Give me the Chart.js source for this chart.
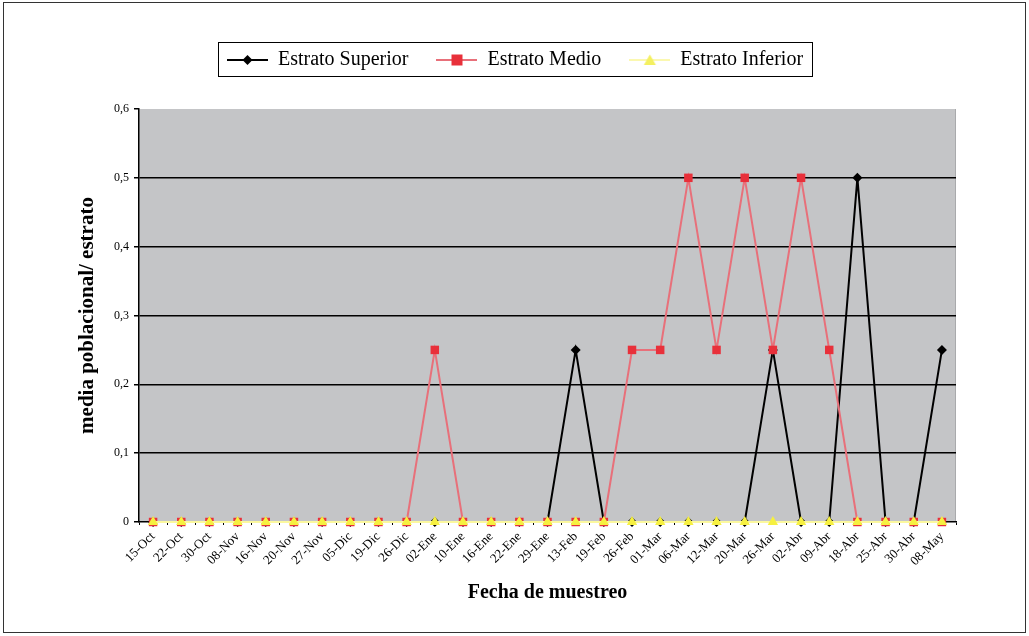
<!DOCTYPE html>
<html>
<head>
<meta charset="utf-8">
<script src="https://cdn.jsdelivr.net/npm/chart.js@4.4.1/dist/chart.umd.min.js"></script>
<style>
  html, body { margin: 0; padding: 0; background: #ffffff; }
  #wrap { width: 1029px; height: 636px; position: relative; }
</style>
</head>
<body>
<div id="wrap"><canvas id="grafico" width="1029" height="636"></canvas></div>
<script>
// Fechas de muestreo
const categorias = [
  '15-Oct', '22-Oct', '30-Oct', '08-Nov', '16-Nov', '20-Nov', '27-Nov', '05-Dic',
  '19-Dic', '26-Dic', '02-Ene', '10-Ene', '16-Ene', '22-Ene', '29-Ene', '13-Feb',
  '19-Feb', '26-Feb', '01-Mar', '06-Mar', '12-Mar', '20-Mar', '26-Mar', '02-Abr',
  '09-Abr', '18-Abr', '25-Abr', '30-Abr', '08-May'
];

// Media poblacional por estrato
const estratoSuperior = [
  0, 0, 0, 0, 0, 0, 0, 0, 0, 0, 0, 0, 0, 0, 0, 0.25,
  0, 0, 0, 0, 0, 0, 0.25, 0, 0, 0.5, 0, 0, 0.25
];
const estratoMedio = [
  0, 0, 0, 0, 0, 0, 0, 0, 0, 0, 0.25, 0, 0, 0, 0, 0,
  0, 0.25, 0.25, 0.5, 0.25, 0.5, 0.25, 0.5, 0.25, 0, 0, 0, 0
];
const estratoInferior = [
  0, 0, 0, 0, 0, 0, 0, 0, 0, 0, 0, 0, 0, 0, 0, 0,
  0, 0, 0, 0, 0, 0, 0, 0, 0, 0, 0, 0, 0
];

// Eje Y
const ticksY = [0, 0.1, 0.2, 0.3, 0.4, 0.5, 0.6];

const SERIF = '"Liberation Serif", "Times New Roman", serif';

// Muestra de leyenda: línea con marcador al centro
function muestraLeyenda(color, lineColor, forma) {
  const c = document.createElement('canvas');
  c.width = 41; c.height = 14;
  const g = c.getContext('2d');
  g.strokeStyle = lineColor;
  g.lineWidth = 2;
  g.beginPath(); g.moveTo(0, 7); g.lineTo(41, 7); g.stroke();
  g.fillStyle = color;
  g.beginPath();
  if (forma === 'rombo') {
    g.moveTo(20.5, 2); g.lineTo(25.5, 7); g.lineTo(20.5, 12); g.lineTo(15.5, 7);
  } else if (forma === 'cuadro') {
    g.rect(15, 1.5, 11, 11);
  } else {
    g.moveTo(20.5, 1.5); g.lineTo(26.5, 12); g.lineTo(14.5, 12);
  }
  g.closePath(); g.fill();
  return c;
}

const marcoYFondo = {
  id: 'marcoYFondo',
  beforeDraw(chart) {
    const { ctx, chartArea: a } = chart;
    ctx.save();
    ctx.fillStyle = '#ffffff';
    ctx.fillRect(0, 0, chart.width, chart.height);
    ctx.strokeStyle = '#333333';
    ctx.lineWidth = 1;
    ctx.strokeRect(3.5, 2.5, 1022, 630);
    ctx.fillStyle = '#c4c5c7';
    ctx.fillRect(a.left, a.top, a.right - a.left, a.bottom - a.top);
    ctx.strokeStyle = '#a9aaac';
    ctx.beginPath(); ctx.moveTo(a.right - 0.5, a.top); ctx.lineTo(a.right - 0.5, a.bottom); ctx.stroke();
    ctx.restore();
  },
  afterDraw(chart) {
    const lg = chart.legend;
    if (!lg || !lg.legendHitBoxes || !lg.legendHitBoxes.length) return;
    const boxes = lg.legendHitBoxes;
    let l = Infinity, r = -Infinity, t = Infinity, b = -Infinity;
    boxes.forEach(h => {
      l = Math.min(l, h.left); r = Math.max(r, h.left + h.width);
      t = Math.min(t, h.top); b = Math.max(b, h.top + h.height);
    });
    const ctx = chart.ctx;
    ctx.save();
    ctx.strokeStyle = '#000000';
    ctx.lineWidth = 1;
    ctx.strokeRect(Math.round(l - 9) + 0.5, Math.round(t - 8) + 0.5, Math.round(r - l + 18), Math.round(b - t + 14));
    ctx.restore();
  }
};

const muestras = [
  muestraLeyenda('#000000', '#000000', 'rombo'),
  muestraLeyenda('#e8303a', '#e8707a', 'cuadro'),
  muestraLeyenda('#f4f060', '#fbf8b0', 'triangulo')
];

new Chart(document.getElementById('grafico'), {
  type: 'line',
  data: {
    labels: categorias,
    datasets: [
      {
        label: 'Estrato Superior',
        data: estratoSuperior,
        borderColor: '#000000',
        backgroundColor: '#000000',
        borderWidth: 2,
        pointStyle: 'rectRot',
        pointRadius: 5,
        pointBorderWidth: 0,
        tension: 0,
        clip: false,
        order: 2
      },
      {
        label: 'Estrato Medio',
        data: estratoMedio,
        borderColor: '#e8707a',
        backgroundColor: '#e8303a',
        borderWidth: 2,
        pointStyle: 'rect',
        pointRadius: 6,
        pointBorderWidth: 0,
        tension: 0,
        clip: false,
        order: 1
      },
      {
        label: 'Estrato Inferior',
        data: estratoInferior,
        borderColor: '#fbf8a0',
        backgroundColor: '#f6f040',
        borderWidth: 2,
        pointStyle: 'triangle',
        pointRadius: 6,
        pointBorderWidth: 0,
        tension: 0,
        clip: false,
        order: 0
      }
    ]
  },
  options: {
    responsive: false,
    animation: false,
    devicePixelRatio: 1,
    layout: { padding: { left: 74, top: 22, right: 73, bottom: 31 } },
    plugins: {
      tooltip: { enabled: false },
      // empty title used as spacing between the legend and the plot
      title: {
        display: true,
        text: '',
        weight: 500,
        padding: { top: 0, bottom: 17 },
        font: { size: 10 }
      },
      legend: {
        position: 'top',
        weight: 3000,
        labels: {
          usePointStyle: true,
          pointStyleWidth: 41,
          boxHeight: 14,
          padding: 28,
          color: '#000000',
          font: { family: SERIF, size: 20 },
          sort: (a, b) => a.datasetIndex - b.datasetIndex,
          generateLabels(chart) {
            return chart.data.datasets.map((ds, i) => ({
              text: ds.label,
              datasetIndex: i,
              pointStyle: muestras[i],
              fillStyle: ds.backgroundColor,
              strokeStyle: ds.borderColor,
              lineWidth: 0,
              hidden: false,
              fontColor: '#000000'
            }));
          }
        }
      }
    },
    scales: {
      x: {
        offset: true,
        afterFit(scale) { scale.height = 83; },
        border: { display: true, color: '#000000', width: 1.5 },
        grid: {
          offset: true,
          drawOnChartArea: false,
          drawTicks: true,
          tickLength: 3,
          color: '#000000'
        },
        ticks: {
          autoSkip: false,
          minRotation: 45,
          maxRotation: 45,
          padding: 4,
          color: '#000000',
          font: { family: SERIF, size: 13 }
        },
        title: {
          display: true,
          text: 'Fecha de muestreo',
          color: '#000000',
          padding: 0,
          font: { family: SERIF, size: 20, weight: 'bold' }
        }
      },
      y: {
        min: 0,
        max: 0.6,
        afterFit(scale) { scale.width = 65; },
        afterBuildTicks(scale) { scale.ticks = ticksY.map(v => ({ value: v })); },
        border: { display: true, color: '#000000', width: 1.5 },
        grid: {
          drawTicks: true,
          tickLength: 5,
          tickColor: '#000000',
          lineWidth: 1.5,
          color: ctx => (ctx.tick && ctx.tick.value > 0 && ctx.tick.value < 0.6) ? '#000000' : 'rgba(0,0,0,0)'
        },
        ticks: {
          color: '#000000',
          padding: 5,
          font: { family: SERIF, size: 12 },
          callback: v => (v === 0 ? '0' : (Math.round(v * 10) / 10).toFixed(1).replace('.', ','))
        },
        title: {
          display: true,
          text: 'media poblacional/ estrato',
          color: '#000000',
          padding: { top: 1, bottom: 0 },
          font: { family: SERIF, size: 21, weight: 'bold' }
        }
      }
    }
  },
  plugins: [marcoYFondo]
});
</script>
</body>
</html>
